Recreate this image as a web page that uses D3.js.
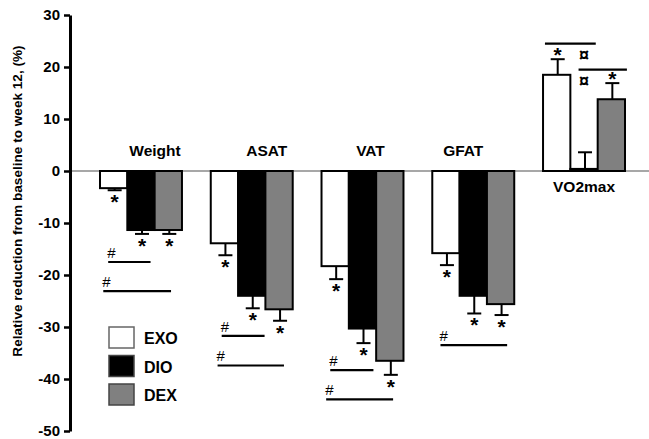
<!DOCTYPE html>
<html>
<head>
<meta charset="utf-8">
<script src="https://cdn.jsdelivr.net/npm/d3@7"></script>
<style>
  body { margin: 0; background: #fff; }
  text { font-family: Arial, "Liberation Sans", sans-serif; }
</style>
</head>
<body>
<div id="chart"></div>
<script>
const groups = ["Weight", "ASAT", "VAT", "GFAT", "VO2max"];
const series = ["EXO", "DIO", "DEX"];
const exoValues = [-3.3, -13.9, -18.3, -15.8, 18.5];
const dioValues = [-11.35, -24.0, -30.3, -24.0, 0.4];
const dexValues = [-11.35, -26.6, -36.5, -25.6, 13.8];
const exoErr = [0.4, 2.3, 2.5, 2.3, 3.0];
const dioErr = [0.75, 2.4, 2.8, 3.4, 3.2];
const dexErr = [0.75, 2.2, 2.7, 2.1, 3.1];
const exoStar = [true, true, true, true, true];
const dioStar = [true, true, true, true, false];
const dexStar = [true, true, true, true, true];
const yTicks = [30, 20, 10, 0, -10, -20, -30, -40, -50];

// significance brackets: group, level (%), from / to in bar units, mark
const sigGroup = ["Weight", "Weight", "ASAT", "ASAT", "VAT", "VAT", "GFAT", "VO2max", "VO2max"];
const sigLevel = [-17.5, -23.1, -31.7, -37.4, -38.3, -43.9, -33.5, 24.5, 19.5];
const sigFrom = [0.3, 0.12, 0.4, 0.25, 0.32, 0.17, 0.3, 0.07, 1.3];
const sigTo = [1.85, 2.6, 1.97, 2.68, 1.9, 2.62, 2.74, 1.93, 3.07];
const sigMark = ["#", "#", "#", "#", "#", "#", "#", "", ""];
const curLevel = [24.5, 19.5];

const labelShift = [14, 15, 8, -10, 0];

const width = 649, height = 439;
const fills = { EXO: "#ffffff", DIO: "#000000", DEX: "#808080" };

const svg = d3.select("#chart")
  .append("svg")
  .attr("width", width)
  .attr("height", height);

const y = d3.scaleLinear().domain([-50, 30]).range([431, 15]);

const x = d3.scaleBand()
  .domain(groups)
  .range([100, 625])
  .paddingInner(0.26)
  .paddingOuter(0);

const xs = d3.scaleBand().domain(series).range([0, x.bandwidth()]);
const unit = xs.bandwidth();

const rows = [];
groups.forEach((g, i) => {
  rows.push({ g, s: "EXO", v: exoValues[i], e: exoErr[i], star: exoStar[i] });
  rows.push({ g, s: "DIO", v: dioValues[i], e: dioErr[i], star: dioStar[i] });
  rows.push({ g, s: "DEX", v: dexValues[i], e: dexErr[i], star: dexStar[i] });
});

// zero line
svg.append("line")
  .attr("x1", 70).attr("x2", width)
  .attr("y1", y(0)).attr("y2", y(0))
  .attr("stroke", "#8a8a8a")
  .attr("stroke-width", 1.3);

// y axis
const yAxis = svg.append("g")
  .attr("transform", "translate(70,0)")
  .call(d3.axisLeft(y).tickValues(yTicks).tickFormat(d => String(d))
    .tickSize(6).tickSizeOuter(0).tickPadding(4));
yAxis.select(".domain").attr("stroke-width", 3);
yAxis.selectAll(".tick line").attr("stroke-width", 2.5);
yAxis.selectAll(".tick text")
  .style("font-size", "15px")
  .style("font-weight", "bold")
  .attr("fill", "#000");

svg.append("text")
  .attr("transform", `translate(22,${201}) rotate(-90)`)
  .attr("text-anchor", "middle")
  .style("font-size", "13.6px")
  .style("font-weight", "bold")
  .text("Relative reduction from baseline to week 12, (%)");

const bx = d => x(d.g) + xs(d.s);
const cap = d => d.v < 0 ? d.v - d.e : d.v + d.e;

// error bars
const err = svg.append("g").attr("stroke", "#000").attr("stroke-width", 2);
err.selectAll("line.v")
  .data(rows)
  .join("line")
  .attr("x1", d => bx(d) + unit / 2 + 1)
  .attr("x2", d => bx(d) + unit / 2 + 1)
  .attr("y1", d => y(d.v))
  .attr("y2", d => y(cap(d)));
err.selectAll("line.c")
  .data(rows)
  .join("line")
  .attr("x1", d => bx(d) + unit / 2 - 6)
  .attr("x2", d => bx(d) + unit / 2 + 8)
  .attr("y1", d => y(cap(d)))
  .attr("y2", d => y(cap(d)));

// bars
svg.append("g")
  .selectAll("rect")
  .data(rows)
  .join("rect")
  .attr("x", d => bx(d))
  .attr("y", d => y(Math.max(0, d.v)))
  .attr("width", unit)
  .attr("height", d => Math.abs(y(d.v) - y(0)))
  .attr("fill", d => fills[d.s])
  .attr("stroke", "#000")
  .attr("stroke-width", 2);

// stars
svg.append("g")
  .selectAll("text")
  .data(rows.filter(d => d.star))
  .join("text")
  .attr("x", d => bx(d) + unit / 2 + 1)
  .attr("y", d => d.v < 0 ? y(cap(d)) + 19 : y(cap(d)) + 3)
  .attr("text-anchor", "middle")
  .style("font-size", "21px")
  .style("font-weight", "bold")
  .text("*");

// group labels
svg.append("g")
  .selectAll("text")
  .data(groups)
  .join("text")
  .attr("x", (g, i) => x(g) + x.bandwidth() / 2 + labelShift[i])
  .attr("y", (g, i) => exoValues[i] < 0 ? y(0) - 15 : y(0) + 21)
  .attr("text-anchor", "middle")
  .style("font-size", "15.5px")
  .style("font-weight", "bold")
  .text(g => g);

// significance lines
const sig = sigGroup.map((g, i) => ({ g, lv: sigLevel[i], a: sigFrom[i], b: sigTo[i], m: sigMark[i] }));
svg.append("g")
  .selectAll("line")
  .data(sig)
  .join("line")
  .attr("x1", d => x(d.g) + d.a * unit)
  .attr("x2", d => x(d.g) + d.b * unit)
  .attr("y1", d => y(d.lv))
  .attr("y2", d => y(d.lv))
  .attr("stroke", "#000")
  .attr("stroke-width", 2.2);

svg.append("g")
  .selectAll("text")
  .data(sig.filter(d => d.m))
  .join("text")
  .attr("x", d => x(d.g) + d.a * unit - 1)
  .attr("y", d => y(d.lv) - 4)
  .style("font-size", "15px")
  .text(d => d.m);

// currency marks under the VO2max brackets
svg.append("g")
  .selectAll("text")
  .data(curLevel)
  .join("text")
  .attr("x", x("VO2max") + 1.5 * unit)
  .attr("y", d => y(d) + 17)
  .attr("text-anchor", "middle")
  .style("font-size", "18px")
  .style("font-weight", "bold")
  .text("¤");

// legend
const legend = svg.append("g").attr("transform", "translate(109,327)");
series.forEach((s, i) => {
  const row = legend.append("g").attr("transform", `translate(0,${i * 28.5})`);
  row.append("rect")
    .attr("width", 25)
    .attr("height", 21)
    .attr("fill", fills[s])
    .attr("stroke", s === "EXO" ? "#666" : "#444")
    .attr("stroke-width", 1.5);
  row.append("text")
    .attr("x", 35)
    .attr("y", 17)
    .style("font-size", "16px")
    .style("font-weight", "bold")
    .text(s);
});
</script>
</body>
</html>
